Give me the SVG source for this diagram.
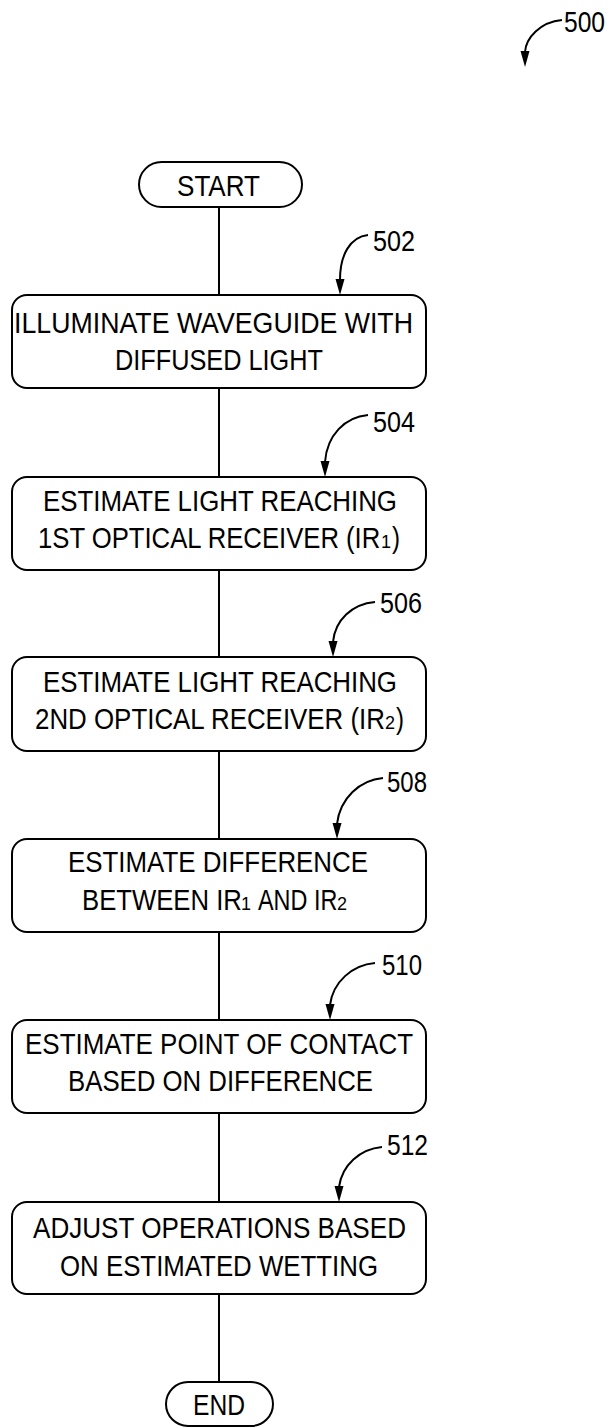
<svg xmlns="http://www.w3.org/2000/svg" width="610" height="1427" viewBox="0 0 610 1427">
<style>
.box{fill:#fff;stroke:#000;stroke-width:2}
.t{font-family:"Liberation Sans",Arial,sans-serif;font-size:30px;fill:#000}
.lbl{font-family:"Liberation Sans",Arial,sans-serif;font-size:30px;fill:#000}
.sub{font-family:"Liberation Sans",Arial,sans-serif;font-size:18px;fill:#000}
.conn{stroke:#000;stroke-width:2;fill:none}
.lead{stroke:#000;stroke-width:2;fill:none}
</style>
<rect width="610" height="1427" fill="#fff"/>
<g id="connectors">
<line class="conn" x1="219" y1="207" x2="219" y2="295"/>
<line class="conn" x1="219" y1="388" x2="219" y2="477"/>
<line class="conn" x1="219" y1="570" x2="219" y2="657"/>
<line class="conn" x1="219" y1="751" x2="219" y2="839"/>
<line class="conn" x1="219" y1="932" x2="219" y2="1020"/>
<line class="conn" x1="219" y1="1113" x2="219" y2="1202"/>
<line class="conn" x1="219" y1="1294" x2="219" y2="1382"/>
</g>
<g id="ref500">
<path class="lead" d="M562,20 C540,22 526,38 525,52"/>
<path d="M520.5,51 L529.5,51 L525,67 Z" fill="#000"/>
<text class="lbl" transform="translate(564,32) scale(0.82,1)">500</text>
</g>
<g id="start">
<rect class="box" x="139" y="162" width="163" height="45" rx="22.5"/>
<text class="t" x="177" y="196" textLength="83" lengthAdjust="spacingAndGlyphs">START</text>
</g>
<g id="n502">
<rect class="box" x="12" y="295" width="414" height="93" rx="15"/>
<text class="t" x="14" y="333" textLength="399" lengthAdjust="spacingAndGlyphs">ILLUMINATE WAVEGUIDE WITH</text>
<text class="t" x="115" y="370" textLength="208" lengthAdjust="spacingAndGlyphs">DIFFUSED LIGHT</text>
<path class="lead" d="M368,235 C350,237 340,255 340,280"/>
<path d="M335.5,279 L344.5,279 L340,295 Z" fill="#000"/>
<text class="lbl" transform="translate(373,251) scale(0.84,1)">502</text>
</g>
<g id="n504">
<rect class="box" x="12" y="477" width="414" height="93" rx="15"/>
<text class="t" x="43" y="511" textLength="354" lengthAdjust="spacingAndGlyphs">ESTIMATE LIGHT REACHING</text>
<text class="t" transform="translate(38,548) scale(0.856,1)">1ST OPTICAL RECEIVER (IR</text>
<text class="sub" x="381" y="548">1</text>
<text class="t" transform="translate(392,548) scale(0.8,1)">)</text>
<path class="lead" d="M368,415 C345,417 327,435 325,462"/>
<path d="M320.5,461 L329.5,461 L325,477 Z" fill="#000"/>
<text class="lbl" transform="translate(373,432) scale(0.84,1)">504</text>
</g>
<g id="n506">
<rect class="box" x="12" y="657" width="414" height="94" rx="15"/>
<text class="t" x="43" y="692" textLength="354" lengthAdjust="spacingAndGlyphs">ESTIMATE LIGHT REACHING</text>
<text class="t" transform="translate(35,729) scale(0.863,1)">2ND OPTICAL RECEIVER (IR</text>
<text class="sub" x="385" y="729">2</text>
<text class="t" transform="translate(396,729) scale(0.8,1)">)</text>
<path class="lead" d="M375,602 C352,604 335,620 333,642"/>
<path d="M328.5,641 L337.5,641 L333,657 Z" fill="#000"/>
<text class="lbl" transform="translate(380,613) scale(0.84,1)">506</text>
</g>
<g id="n508">
<rect class="box" x="12" y="839" width="414" height="93" rx="15"/>
<text class="t" x="68" y="872" textLength="300" lengthAdjust="spacingAndGlyphs">ESTIMATE DIFFERENCE</text>
<text class="t" transform="translate(82,910) scale(0.857,1)">BETWEEN IR</text>
<text class="sub" x="241" y="910">1</text>
<text class="t" transform="translate(258,910) scale(0.78,1)">AND IR</text>
<text class="sub" x="337" y="910">2</text>
<path class="lead" d="M383,778 C360,780 340,798 337,824"/>
<path d="M332.5,823 L341.5,823 L337,839 Z" fill="#000"/>
<text class="lbl" transform="translate(387,792) scale(0.8,1)">508</text>
</g>
<g id="n510">
<rect class="box" x="12" y="1020" width="414" height="93" rx="15"/>
<text class="t" x="25" y="1054" textLength="388" lengthAdjust="spacingAndGlyphs">ESTIMATE POINT OF CONTACT</text>
<text class="t" x="68" y="1091" textLength="305" lengthAdjust="spacingAndGlyphs">BASED ON DIFFERENCE</text>
<path class="lead" d="M375,963 C352,965 333,982 330,1005"/>
<path d="M325.5,1004 L334.5,1004 L330,1020 Z" fill="#000"/>
<text class="lbl" transform="translate(382,975) scale(0.8,1)">510</text>
</g>
<g id="n512">
<rect class="box" x="12" y="1202" width="414" height="92" rx="15"/>
<text class="t" x="33" y="1238" textLength="373" lengthAdjust="spacingAndGlyphs">ADJUST OPERATIONS BASED</text>
<text class="t" x="60" y="1276" textLength="318" lengthAdjust="spacingAndGlyphs">ON ESTIMATED WETTING</text>
<path class="lead" d="M382,1147 C360,1149 342,1165 339,1187"/>
<path d="M334.5,1186 L343.5,1186 L339,1202 Z" fill="#000"/>
<text class="lbl" transform="translate(387,1155) scale(0.82,1)">512</text>
</g>
<g id="end">
<rect class="box" x="166" y="1382" width="107" height="44" rx="22"/>
<text class="t" x="193" y="1415" textLength="52" lengthAdjust="spacingAndGlyphs">END</text>
</g>
</svg>
